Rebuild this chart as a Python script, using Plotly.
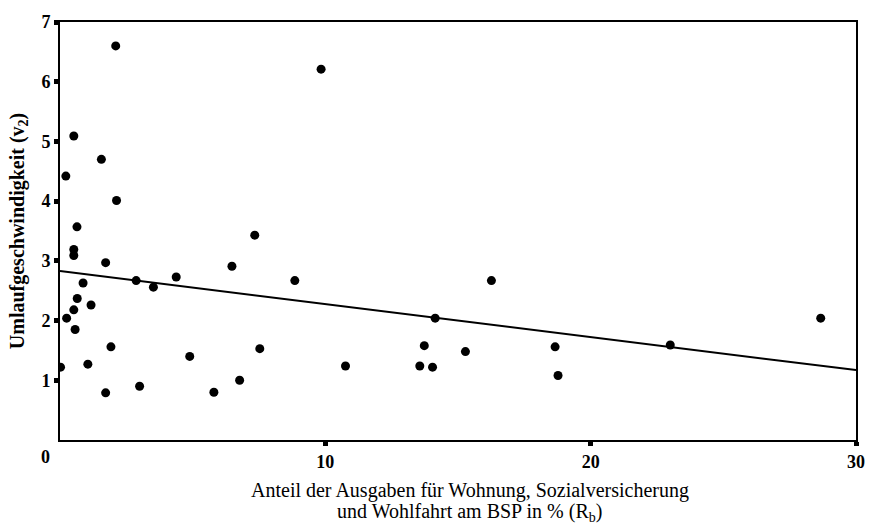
import plotly.graph_objects as go

# Data
rb_share = [2.1, 9.84, 0.52, 1.56, 0.22, 2.13, 0.64, 0.52, 0.52, 1.72,
            0.87, 2.87, 3.52, 4.38, 0.65, 0.52, 0.25, 1.17, 0.57, 1.92,
            0.02, 1.05, 1.72, 3.0, 4.89, 7.34, 6.48, 8.85, 16.26, 14.14,
            7.53, 5.80, 6.77, 10.76, 13.73, 13.56, 14.04, 15.28, 18.66, 18.77,
            23.0, 28.67]
velocity = [6.6, 6.21, 5.09, 4.70, 4.42, 4.01, 3.57, 3.19, 3.09, 2.97,
            2.63, 2.67, 2.56, 2.73, 2.37, 2.18, 2.04, 2.26, 1.85, 1.56,
            1.22, 1.27, 0.79, 0.90, 1.40, 3.43, 2.91, 2.67, 2.67, 2.04,
            1.53, 0.80, 1.00, 1.24, 1.58, 1.24, 1.22, 1.48, 1.56, 1.08,
            1.59, 2.04]

trend_x = [0, 30]
trend_y = [2.83, 1.17]

x_ticks = [10, 20, 30]
y_ticks = [1, 2, 3, 4, 5, 6, 7]

x_title_1 = "Anteil der Ausgaben für Wohnung, Sozialversicherung"
x_title_2 = "und Wohlfahrt am BSP in % (R<sub>b</sub>)"
y_title = "Umlaufgeschwindigkeit (v<sub>2</sub>)"

FONT = "Liberation Serif"

fig = go.Figure()
fig.add_trace(go.Scatter(x=trend_x, y=trend_y, mode="lines",
                         line=dict(color="black", width=2), showlegend=False,
                         hoverinfo="skip"))
fig.add_trace(go.Scatter(x=rb_share, y=velocity, mode="markers",
                         marker=dict(color="black", size=9), showlegend=False))

axis_common = dict(ticks="outside", ticklen=4, tickwidth=5, tickcolor="black",
                   showline=True, linewidth=2, linecolor="black", mirror=True,
                   showgrid=False, zeroline=False,
                   tickfont=dict(family=FONT, size=18, weight="bold"))

fig.update_layout(
    width=877, height=528,
    margin=dict(l=60, r=17, t=14, b=88),
    paper_bgcolor="white", plot_bgcolor="white",
    font=dict(family=FONT, color="black"),
    xaxis=dict(range=[0, 30], tickvals=x_ticks, **axis_common),
    yaxis=dict(range=[0, 7], tickvals=y_ticks, **axis_common),
    annotations=[
        dict(text="0", xref="paper", yref="paper", x=-0.01875, y=0,
             xanchor="center", yanchor="middle", yshift=-17, showarrow=False,
             font=dict(family=FONT, size=18, weight="bold")),
        dict(text=x_title_1, xref="paper", yref="paper", x=0.515, y=0,
             xanchor="center", yanchor="middle", yshift=-50, showarrow=False,
             font=dict(family=FONT, size=20)),
        dict(text=x_title_2, xref="paper", yref="paper", x=0.515, y=0,
             xanchor="center", yanchor="middle", yshift=-72, showarrow=False,
             font=dict(family=FONT, size=20)),
        dict(text=y_title, xref="paper", yref="paper", x=-0.0525, y=0.5,
             xanchor="center", yanchor="middle", textangle=-90,
             showarrow=False, font=dict(family=FONT, size=20, weight="bold")),
    ],
)

fig.write_html("out.html", config={"displayModeBar": False},
               post_script="document.body.style.margin='0';")
